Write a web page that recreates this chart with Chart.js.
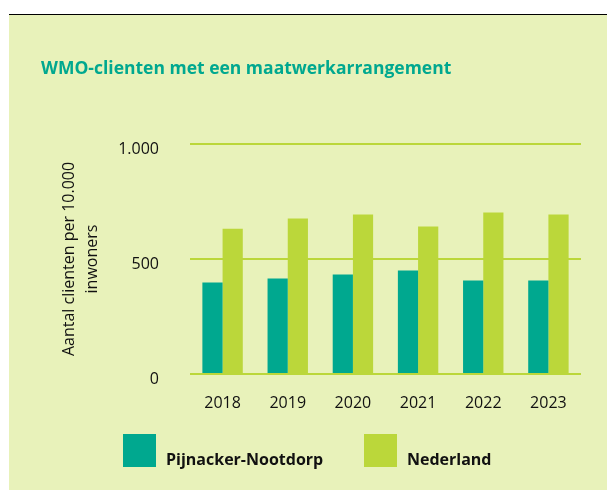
<!DOCTYPE html>
<html>
<head>
<meta charset="utf-8">
<script src="https://cdn.jsdelivr.net/npm/chart.js@4"></script>
<style>
  html, body { margin: 0; padding: 0; background: #ffffff; }
  body { width: 607px; height: 490px; position: relative; overflow: hidden; }
  #panel { position: absolute; left: 9px; top: 14px; width: 598px; height: 475px; border-top: 1px solid #000; background: #E8F2BA; }
  #wrap { position: absolute; left: 0; top: 0; width: 598px; height: 475px; }
  #legend { position: absolute; left: 0; top: 0; width: 598px; height: 475px; pointer-events: none; font-family: "Open Sans", sans-serif; font-weight: bold; font-size: 16px; color: #111; }
  .lg-box { position: absolute; width: 33px; height: 33px; }
  .lg-txt { position: absolute; line-height: 20px; white-space: nowrap; }
</style>
</head>
<body>
<div id="panel">
  <div id="wrap"><canvas id="c" width="598" height="475"></canvas></div>
  <div id="legend"></div>
</div>
<script>
const categories = ["2018", "2019", "2020", "2021", "2022", "2023"];
const seriesNames = ["Pijnacker-Nootdorp", "Nederland"];
const pijnackerValues = [398, 415, 433, 450, 407, 407];
const nederlandValues = [632, 676, 693, 641, 702, 693];
const yTicks = [0, 500, 1000];
const yTickLabels = ["0", "500", "1.000"];
const titleText = "WMO-clienten met een maatwerkarrangement";
const yAxisTitle = ["Aantal clienten per 10.000", "inwoners"];

const TEAL = "#00A88F";
const LIME = "#BBD73A";
const FONT = "'Open Sans', sans-serif";

const chart = new Chart(document.getElementById("c"), {
  type: "bar",
  data: {
    labels: categories,
    datasets: [
      { label: seriesNames[0], data: pijnackerValues, backgroundColor: TEAL, borderWidth: 0 },
      { label: seriesNames[1], data: nederlandValues, backgroundColor: LIME, borderWidth: 0 }
    ]
  },
  options: {
    responsive: false,
    animation: false,
    events: [],
    layout: { padding: { left: 32, right: 26, top: 0, bottom: 76 } },
    datasets: { bar: { categoryPercentage: 0.62, barPercentage: 1.0 } },
    plugins: {
      legend: { display: false },
      tooltip: { enabled: false },
      title: {
        display: true,
        text: titleText,
        align: "start",
        color: TEAL,
        font: { family: FONT, size: 17.5, weight: "bold", lineHeight: "22px" },
        padding: { top: 43, bottom: 64 }
      }
    },
    scales: {
      x: {
        grid: { display: false, drawTicks: false },
        border: { display: false },
        ticks: { color: "#111", font: { family: FONT, size: 16 }, padding: 20 },
        afterFit: (s) => { s.height = 40; }
      },
      y: {
        min: 0,
        max: 1000,
        afterBuildTicks: (s) => { s.ticks = yTicks.map(v => ({ value: v })); },
        grid: { color: LIME, lineWidth: 2, drawTicks: false },
        border: { display: false },
        ticks: {
          color: "#111",
          font: { family: FONT, size: 16 },
          padding: 31,
          labelOffset: 5,
          callback: (v) => { const i = yTicks.indexOf(v); return i >= 0 ? yTickLabels[i] : ""; }
        },
        title: {
          display: true,
          text: yAxisTitle,
          color: "#111",
          font: { family: FONT, size: 16, lineHeight: "23px" },
          padding: { top: 16.5, bottom: 0 }
        },
        afterFit: (s) => { s.width = 149; }
      }
    }
  }
});

// HTML legend built from the chart's own legend items
const legendEl = document.getElementById("legend");
const items = Chart.defaults.plugins.legend.labels.generateLabels(chart);
const boxX = [114, 355];
items.forEach((it, i) => {
  const b = document.createElement("div");
  b.className = "lg-box";
  b.style.left = boxX[i] + "px";
  b.style.top = "419px";
  b.style.background = it.fillStyle;
  legendEl.appendChild(b);
  const t = document.createElement("div");
  t.className = "lg-txt";
  t.style.left = (boxX[i] + 43) + "px";
  t.style.top = "434px";
  t.textContent = it.text;
  legendEl.appendChild(t);
});
</script>
</body>
</html>
